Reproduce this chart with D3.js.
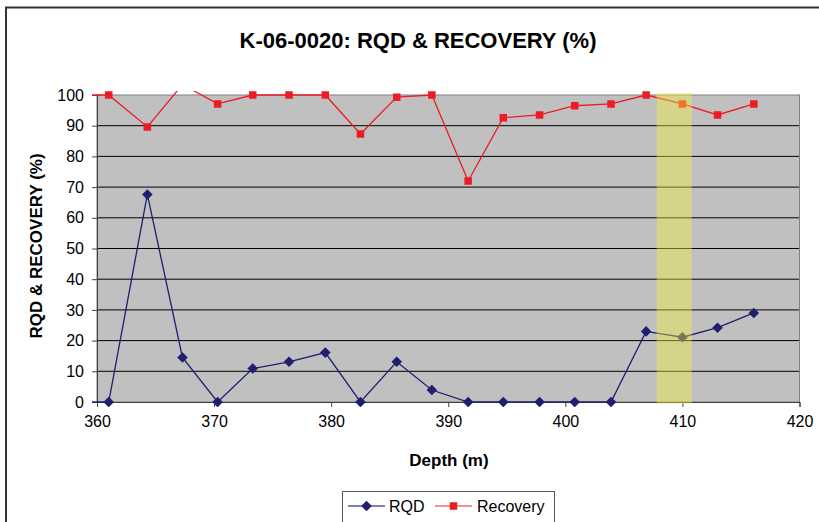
<!DOCTYPE html>
<html>
<head>
<meta charset="utf-8">
<script src="https://cdn.jsdelivr.net/npm/d3@7"></script>
<style>
  html, body { margin: 0; padding: 0; background: #fff; }
  svg { display: block; font-family: "Liberation Sans", Arial, sans-serif; }
</style>
</head>
<body>
<svg id="chart" width="819" height="522"></svg>
<script>
// ---- data ----
const title = "K-06-0020: RQD & RECOVERY (%)";
const xTitle = "Depth (m)";
const yTitle = "RQD & RECOVERY (%)";
const depths   = [357.9, 361.0, 364.3, 367.3, 370.3, 373.3, 376.4, 379.5, 382.5, 385.6, 388.6, 391.7, 394.7, 397.8, 400.8, 403.9, 406.9, 410.0, 413.0, 416.1];
const rqd      = [0, 0, 67.6, 14.5, 0, 10.9, 13.1, 16.1, 0, 13.1, 3.9, 0, 0, 0, 0, 0, 23.0, 21.1, 24.2, 29.0];
const recovery = [100, 100, 89.6, 103.4, 97.1, 100, 100, 100, 87.3, 99.3, 100, 72.0, 92.6, 93.5, 96.5, 97.1, 100, 97.1, 93.5, 97.1];
const xTicks = [360, 370, 380, 390, 400, 410, 420];
const yTicks = [0, 10, 20, 30, 40, 50, 60, 70, 80, 90, 100];
const highlight = [407.8, 410.8];
const seriesNames = ["RQD", "Recovery"];
const seriesColors = ["#1F1F6E", "#EC1C24"];

// ---- layout ----
const svg = d3.select("#chart");
const L = 97, R = 799.5, T = 95, B = 402;
const x = d3.scaleLinear().domain([360, 420]).range([L, R]);
const y = d3.scaleLinear().domain([0, 100]).range([B, T]);

// outer chart border
svg.append("rect").attr("x", 6).attr("y", 7.5).attr("width", 830).attr("height", 530)
  .attr("fill", "#fff").attr("stroke", "#333").attr("stroke-width", 2);

// title
svg.append("text").attr("x", 418).attr("y", 48).attr("text-anchor", "middle")
  .attr("font-size", 22).attr("font-weight", "bold").attr("fill", "#000").text(title);

// plot area
svg.append("rect").attr("x", L).attr("y", T).attr("width", R - L).attr("height", B - T)
  .attr("fill", "#C0C0C0");

// gridlines
svg.append("g").selectAll("line").data(yTicks.filter(d => d > 0 && d < 100)).join("line")
  .attr("x1", L).attr("x2", R).attr("y1", d => y(d)).attr("y2", d => y(d))
  .attr("stroke", "#000").attr("stroke-width", 1);

// plot border
svg.append("rect").attr("x", L).attr("y", T).attr("width", R - L).attr("height", B - T)
  .attr("fill", "none").attr("stroke", "#808080").attr("stroke-width", 1);

// axes
const yAxis = d3.axisLeft(y).tickValues(yTicks).tickSize(5).tickPadding(8);
const gy = svg.append("g").attr("transform", `translate(${L},0)`).call(yAxis);
gy.select(".domain").attr("stroke", "#404040");
gy.selectAll(".tick line").attr("stroke", "#404040");
gy.selectAll("text").attr("font-size", 16).attr("fill", "#000")
  .attr("font-family", "'Liberation Sans', Arial, sans-serif");

const xAxis = d3.axisBottom(x).tickValues(xTicks).tickSize(5).tickPadding(9).tickFormat(d3.format("d"));
const gx = svg.append("g").attr("transform", `translate(0,${B})`).call(xAxis);
gx.select(".domain").attr("stroke", "#404040");
gx.selectAll(".tick line").attr("stroke", "#404040");
gx.selectAll("text").attr("font-size", 16).attr("fill", "#000")
  .attr("font-family", "'Liberation Sans', Arial, sans-serif");

// axis titles
svg.append("text").attr("x", 449).attr("y", 466).attr("text-anchor", "middle")
  .attr("font-size", 17).attr("font-weight", "bold").text(xTitle);
svg.append("text").attr("transform", "translate(42,246) rotate(-90)").attr("text-anchor", "middle")
  .attr("font-size", 17).attr("font-weight", "bold").text(yTitle);

// clip for series (Excel lets lines run a few px beyond the plot area)
svg.append("clipPath").attr("id", "plotclip").append("rect")
  .attr("x", L - 5).attr("y", T - 4).attr("width", R - L + 10).attr("height", B - T + 9);

const series = [rqd, recovery];
const gS = svg.append("g").attr("clip-path", "url(#plotclip)");
const line = d3.line().x(d => x(d[0])).y(d => y(d[1]));
series.forEach((vals, i) => {
  const pts = depths.map((d, j) => [d, vals[j]]);
  gS.append("path").datum(pts).attr("d", line).attr("fill", "none")
    .attr("stroke", seriesColors[i]).attr("stroke-width", 1.3);
});
const shapeFor = i => i === 0 ? d3.symbol(d3.symbolDiamond2, 72)() : d3.symbol(d3.symbolSquare2, 72)();
series.forEach((vals, i) => {
  const pts = depths.map((d, j) => [d, vals[j]]).filter(p => p[0] >= 360 && p[1] <= 100);
  gS.append("g").selectAll("path").data(pts).join("path")
    .attr("transform", p => `translate(${x(p[0])},${y(p[1])})`)
    .attr("d", shapeFor(i)).attr("fill", seriesColors[i]);
});

// highlight band (semi-transparent yellow)
svg.append("rect").attr("x", x(highlight[0])).attr("y", T - 2)
  .attr("width", x(highlight[1]) - x(highlight[0])).attr("height", B - T + 4)
  .attr("fill", "rgb(244,240,63)").attr("fill-opacity", 0.42);

// legend
const lg = svg.append("g");
lg.append("rect").attr("x", 342.5).attr("y", 491.5).attr("width", 212).attr("height", 45)
  .attr("fill", "#fff").attr("stroke", "#555").attr("stroke-width", 1);
const legendItems = [
  { name: seriesNames[0], color: seriesColors[0], x0: 348, x1: 385, tx: 389 },
  { name: seriesNames[1], color: seriesColors[1], x0: 435, x1: 472, tx: 477 }
];
legendItems.forEach((it, i) => {
  const cy = 506;
  lg.append("line").attr("x1", it.x0).attr("x2", it.x1).attr("y1", cy).attr("y2", cy)
    .attr("stroke", it.color).attr("stroke-width", 1.3).attr("stroke-opacity", i === 0 ? 0.75 : 0.65);
  lg.append("path").attr("transform", `translate(${(it.x0 + it.x1) / 2},${cy})`)
    .attr("d", shapeFor(i)).attr("fill", it.color);
  lg.append("text").attr("x", it.tx).attr("y", cy + 6).attr("font-size", 16).attr("fill", "#000").text(it.name);
});
</script>
</body>
</html>
